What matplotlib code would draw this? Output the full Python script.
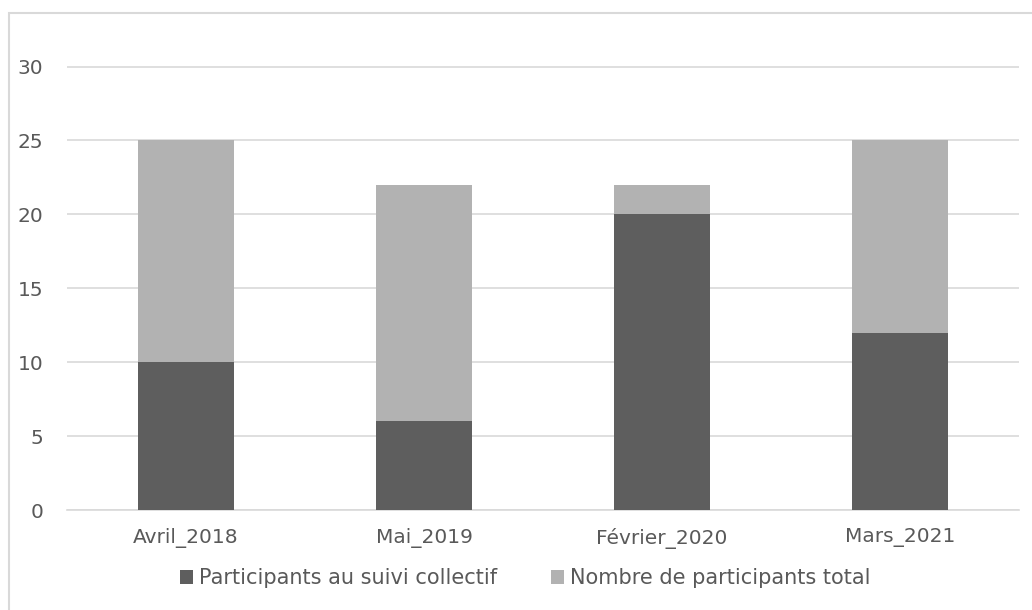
import numpy as np
import matplotlib.pyplot as plt
from matplotlib.patches import Rectangle

# data
categories = ["Avril_2018", "Mai_2019", "Février_2020", "Mars_2021"]
suivi_collectif = [10, 6, 20, 12]
total_participants = [25, 22, 22, 25]
y_ticks = [0, 5, 10, 15, 20, 25, 30]

dark = "#5e5e5e"
light = "#b2b2b2"
text_col = "#595959"
grid_col = "#d9d9d9"

plt.rcParams['font.family'] = ['DejaVu Sans']

fig = plt.figure(figsize=(10.32, 6.10), dpi=100)
ax = fig.add_axes([0.0649, 0.1639, 0.9225, 0.7295])

# outer chart border (light gray frame)
fig.patches.append(Rectangle((9 / 1032, -0.05), 1.2, 1 - 13 / 610 + 0.05,
                             transform=fig.transFigure, fill=False,
                             edgecolor="#d9d9d9", linewidth=1.5, zorder=0))

x = np.arange(len(categories))
top_part = np.array(total_participants) - np.array(suivi_collectif)
ax.bar(x, suivi_collectif, width=0.405, color=dark, label="Participants au suivi collectif", zorder=3)
ax.bar(x, top_part, width=0.405, bottom=suivi_collectif, color=light,
       label="Nombre de participants total", zorder=3)

ax.set_xlim(-0.5, len(categories) - 0.5)
ax.set_ylim(0, 30.1)
ax.set_yticks(y_ticks)
ax.set_xticks(x)
ax.set_xticklabels(categories)
ax.grid(axis="y", color=grid_col, linewidth=1.2, zorder=0)
for s in ["top", "right", "left"]:
    ax.spines[s].set_visible(False)
ax.spines["bottom"].set_color(grid_col)
ax.spines["bottom"].set_linewidth(1.2)
ax.tick_params(axis="both", length=0, labelsize=14.5, colors=text_col)
ax.tick_params(axis="y", pad=17)
ax.tick_params(axis="x", pad=13)

fig.legend(loc="center", bbox_to_anchor=(0.509, 0.052), ncol=2, frameon=False,
           fontsize=15, labelcolor=text_col, handlelength=0.6, handleheight=0.6,
           handletextpad=0.3, columnspacing=2.6)

fig.savefig("out.png", dpi=100)
